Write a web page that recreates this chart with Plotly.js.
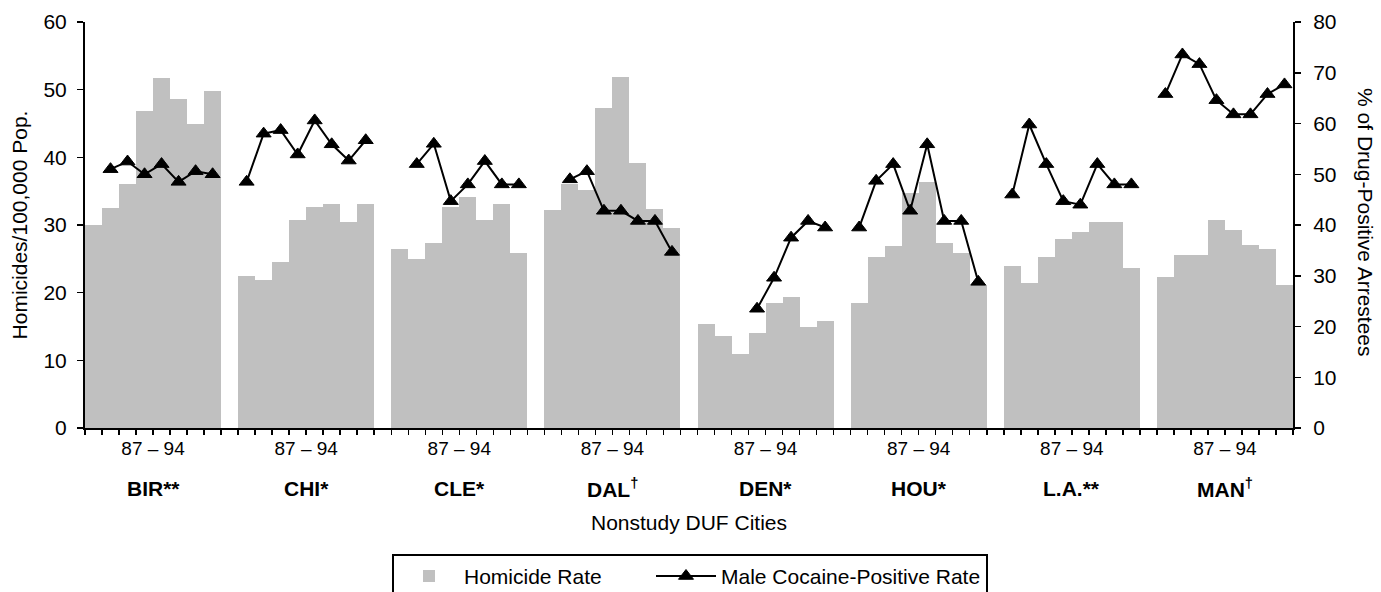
<!DOCTYPE html>
<html><head><meta charset="utf-8">
<script src="https://cdn.plot.ly/plotly-3.0.1.min.js"></script>
<style>html,body{margin:0;padding:0;background:#fff}#chart{width:1381px;height:592px}</style>
</head><body><div id="chart"></div>
<script>
// ---- data ----
const cities = ['BIR**', 'CHI*', 'CLE*', 'DAL<sup>†</sup>', 'DEN*', 'HOU*', 'L.A.**', 'MAN<sup>†</sup>'];
const years = ['87', '88', '89', '90', '91', '92', '93', '94'];
const periodLabel = '87 – 94';

// Homicides per 100,000 population, 1987-1994
const homBIR = [30.0, 32.5, 36.1, 46.8, 51.7, 48.6, 45.0, 49.8];
const homCHI = [22.5, 21.9, 24.6, 30.7, 32.7, 33.1, 30.4, 33.1];
const homCLE = [26.4, 25.0, 27.3, 32.7, 34.2, 30.7, 33.1, 25.8];
const homDAL = [32.2, 36.1, 35.1, 47.3, 51.8, 39.2, 32.4, 29.5];
const homDEN = [15.3, 13.6, 10.9, 14.1, 18.4, 19.3, 14.9, 15.8];
const homHOU = [18.4, 25.2, 26.9, 34.8, 36.3, 27.3, 25.8, 21.1];
const homLA  = [24.0, 21.4, 25.2, 28.0, 28.9, 30.4, 30.4, 23.7];
const homMAN = [22.3, 25.5, 25.5, 30.7, 29.2, 27.0, 26.4, 21.1];

// Male cocaine-positive rate (% of drug-positive arrestees), 1987-1994
const cocBIR = [null, 51.0, 52.5, 50.0, 52.0, 48.5, 50.6, 50.0];
const cocCHI = [48.5, 58.0, 58.7, 53.9, 60.6, 55.9, 52.7, 56.7];
const cocCLE = [null, 52.0, 56.0, 44.7, 48.0, 52.6, 48.0, 48.0];
const cocDAL = [null, 49.0, 50.6, 42.8, 42.8, 40.8, 40.8, 34.7];
const cocDEN = [null, null, null, 23.5, 29.6, 37.5, 40.8, 39.5];
const cocHOU = [39.5, 48.7, 52.0, 42.8, 55.9, 40.8, 40.8, 28.8];
const cocLA  = [46.0, 59.8, 52.0, 44.7, 44.0, 52.0, 48.0, 48.0];
const cocMAN = [65.8, 73.6, 71.7, 64.6, 61.8, 61.8, 65.8, 67.7];

const homSeries = [homBIR, homCHI, homCLE, homDAL, homDEN, homHOU, homLA, homMAN];
const cocSeries = [cocBIR, cocCHI, cocCLE, cocDAL, cocDEN, cocHOU, cocLA, cocMAN];

// ---- build positions: each city takes one slot per year plus one empty slot ----
const slot = years.length + 1;
const barX = [], barY = [], lineX = [], lineY = [];
cities.forEach((c, i) => {
  years.forEach((yr, j) => {
    barX.push(i * slot + j); barY.push(homSeries[i][j]);
    lineX.push(i * slot + j); lineY.push(cocSeries[i][j]);
  });
  if (i < cities.length - 1) { lineX.push(i * slot + years.length); lineY.push(null); }
});
const nSlots = cities.length * slot - 1;
const centers = cities.map((c, i) => i * slot + (years.length - 1) / 2);
const boundaries = [];
for (let k = 0; k <= nSlots; k++) boundaries.push(k - 0.5);

const FONT = 'Arial, "Liberation Sans", Helvetica, sans-serif';

const traces = [
  {
    type: 'bar', name: 'Homicide Rate', x: barX, y: barY, yaxis: 'y',
    width: 1, marker: {color: '#c0c0c0', line: {width: 0}}, hoverinfo: 'y',
    legendwidth: 182
  },
  {
    type: 'scatter', mode: 'lines+markers', name: 'Male Cocaine-Positive Rate',
    x: lineX, y: lineY, yaxis: 'y2', connectgaps: false,
    line: {color: '#000', width: 2},
    marker: {symbol: 'triangle-up', size: 13, color: '#000', line: {color: '#000', width: 1}}
  }
];

const annotations = cities.map((c, i) => ({
  x: centers[i], xref: 'x', y: -0.148, yref: 'paper', yanchor: 'middle',
  text: '<b>' + c + '</b>', showarrow: false, font: {family: FONT, size: 21, color: '#000'}
}));
annotations.push({
  x: 1.0605, xref: 'paper', y: 0.507, yref: 'paper', textangle: 90,
  text: '% of Drug-Positive Arrestees', showarrow: false,
  font: {family: FONT, size: 21, color: '#000'}, xanchor: 'center', yanchor: 'middle'
});

const layout = {
  width: 1381, height: 592,
  margin: {l: 85, r: 88, t: 22, b: 164, autoexpand: false},
  paper_bgcolor: '#fff', plot_bgcolor: '#fff',
  font: {family: FONT, color: '#000'},
  bargap: 0, barmode: 'overlay',
  showlegend: true,
  legend: {
    orientation: 'h', x: (392 - 85) / 1208, xanchor: 'left', y: -0.31, yanchor: 'top',
    bordercolor: '#000', borderwidth: 2, bgcolor: '#fff',
    font: {family: FONT, size: 21, color: '#000'},
    itemwidth: 60, traceorder: 'normal'
  },
  xaxis: {
    range: [-0.5, nSlots - 0.5], tickmode: 'array', tickvals: centers,
    ticktext: cities.map(() => periodLabel),
    ticks: 'outside', ticklen: 5, tickwidth: 1.5, tickcolor: '#000',
    minor: {tickmode: 'array', tickvals: boundaries, ticks: 'outside', ticklen: 5, tickwidth: 1.5, tickcolor: '#000', showgrid: false},
    showline: true, linecolor: '#000', linewidth: 2,
    showgrid: false, zeroline: false, ticklabelstandoff: -3,
    tickfont: {family: FONT, size: 19, color: '#000'},
    title: {text: 'Nonstudy DUF Cities', font: {family: FONT, size: 21, color: '#000'}, standoff: 58}
  },
  yaxis: {
    range: [0, 60], tickmode: 'linear', tick0: 0, dtick: 10,
    ticks: 'outside', ticklen: 6, tickwidth: 1.5, tickcolor: '#000',
    showline: true, linecolor: '#000', linewidth: 2,
    showgrid: false, zeroline: false, ticklabelstandoff: 6,
    tickfont: {family: FONT, size: 21, color: '#000'},
    title: {text: 'Homicides/100,000 Pop.', font: {family: FONT, size: 21, color: '#000'}, standoff: 10}
  },
  yaxis2: {
    overlaying: 'y', side: 'right', range: [0, 80], tickmode: 'linear', tick0: 0, dtick: 10,
    ticks: 'outside', ticklen: 6, tickwidth: 1.5, tickcolor: '#000',
    showline: true, linecolor: '#000', linewidth: 2,
    showgrid: false, zeroline: false, ticklabelstandoff: 8,
    tickfont: {family: FONT, size: 21, color: '#000'}
  },
  annotations: annotations
};

Plotly.newPlot('chart', traces, layout, {displayModeBar: false, staticPlot: true});
</script>
</body></html>
